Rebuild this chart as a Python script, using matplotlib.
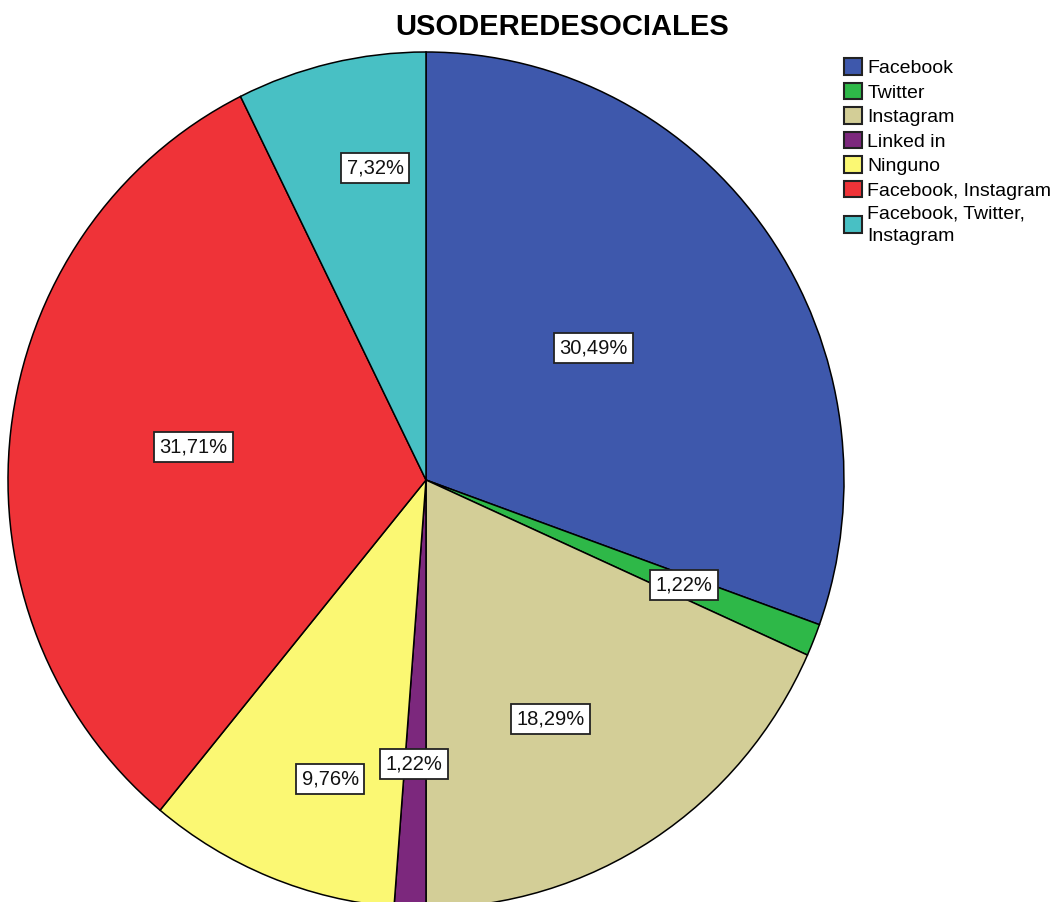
import matplotlib.pyplot as plt
import numpy as np

plt.rcParams["font.family"] = ["Liberation Sans", "DejaVu Sans"]

# respondents per category (82 in total)
categories = [
    "Facebook",
    "Twitter",
    "Instagram",
    "Linked in",
    "Ninguno",
    "Facebook, Instagram",
    "Facebook, Twitter,\nInstagram",
]
counts = [25, 1, 15, 1, 8, 26, 6]
colors = ["#3E58AC", "#2EB848", "#D3CE97", "#7C287D", "#FBF873", "#EF3338", "#48C0C4"]

# label placement: radial distance and angular nudge (deg) per wedge
label_dist = [0.506, 0.664, 0.633, 0.665, 0.735, 0.562, 0.740]
label_nudge = [2.4, 0.3, -4.8, -0.3, 3.8, -1.3, -3.7]

W, H = 1054, 902
fig = plt.figure(figsize=(W / 100, H / 100), dpi=100)

cx, cy, rx, ry = 426, 480, 418, 428
ax = fig.add_axes([(cx - rx) / W, (H - cy - ry) / H, 2 * rx / W, 2 * ry / H])

wedges, _ = ax.pie(
    counts,
    colors=colors,
    startangle=90,
    counterclock=False,
    radius=1.0,
    wedgeprops=dict(edgecolor="black", linewidth=1.1),
)
ax.set_aspect("auto")
ax.set_xlim(-1, 1)
ax.set_ylim(-1, 1)
ax.axis("off")

total = sum(counts)
for w, n, d, nudge in zip(wedges, counts, label_dist, label_nudge):
    ang = np.deg2rad((w.theta1 + w.theta2) / 2 + nudge)
    pct = f"{100 * n / total:.2f}%".replace(".", ",")
    ax.text(
        d * np.cos(ang),
        d * np.sin(ang),
        pct,
        ha="center",
        va="center",
        fontsize=14.5,
        color="#111111",
        bbox=dict(boxstyle="square,pad=0.27", fc="white", ec="#222222", lw=1.3),
        zorder=5,
    )

fig.text(562 / W, 1 - 35 / H, "USODEREDESOCIALES", ha="center", va="baseline",
         fontsize=21, fontweight="bold")

leg = fig.legend(
    wedges,
    categories,
    loc="upper left",
    bbox_to_anchor=(844 / W, 1 - 58 / H),
    frameon=False,
    fontsize=14,
    handlelength=0.95,
    handleheight=0.95,
    handletextpad=0.25,
    labelspacing=0.28,
    borderpad=0.0,
    borderaxespad=0.0,
)
for p in leg.get_patches():
    p.set_edgecolor("#222222")
    p.set_linewidth(1.5)
leg.get_texts()[-1].set_linespacing(1.45)

fig.savefig("out.png", dpi=100)
